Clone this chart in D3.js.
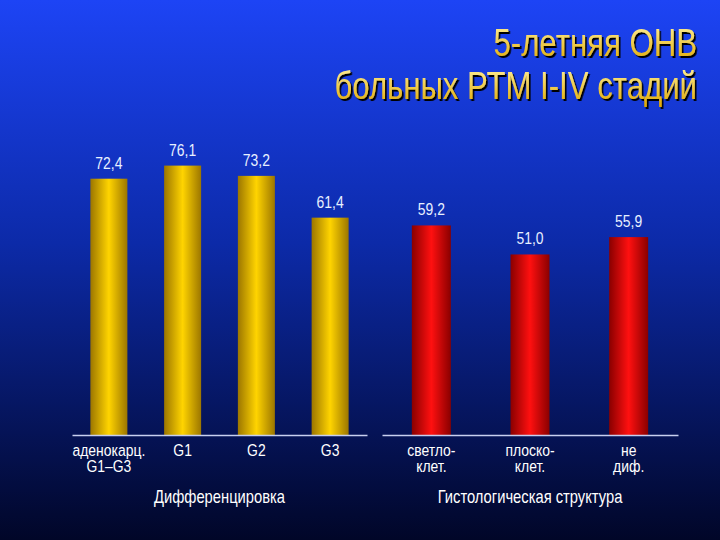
<!DOCTYPE html><html><head><meta charset="utf-8">
<script src="https://cdn.jsdelivr.net/npm/d3@7"></script>
<style>body{margin:0}svg{display:block}</style></head><body><svg id="c" width="720" height="540"></svg>
<script>
const catsDiff = ["аденокарц.|G1–G3","G1","G2","G3"];
const valsDiff = [72.4,76.1,73.2,61.4];
const catsHist = ["светло-|клет.","плоско-|клет.","не|диф."];
const valsHist = [59.2,51.0,55.9];
const titleLines = ["5-летняя ОНВ","больных РТМ I-IV стадий"];
const groupTitles = ["Дифференцировка","Гистологическая структура"];

const svg = d3.select("#c");
const F = "'Liberation Sans','Arial',sans-serif";
const S = 0.82; // horizontal condensation
const defs = svg.append("defs");
const bg = defs.append("linearGradient").attr("id","bg").attr("x1",0).attr("x2",0).attr("y1",0).attr("y2",1);
bg.append("stop").attr("offset","0%").attr("stop-color","#1d44f5");
bg.append("stop").attr("offset","45%").attr("stop-color","#0c2aa8");
bg.append("stop").attr("offset","100%").attr("stop-color","#010628");
function barGrad(id,edge,mid){const g=defs.append("linearGradient").attr("id",id);
 g.append("stop").attr("offset","0%").attr("stop-color",edge);
 g.append("stop").attr("offset","50%").attr("stop-color",mid);
 g.append("stop").attr("offset","100%").attr("stop-color",edge);}
barGrad("gy","#9c7600","#ffd400");
barGrad("gr","#8a0000","#ff1010");
const tg=defs.append("linearGradient").attr("id","tg").attr("x1",0).attr("x2",0).attr("y1",0).attr("y2",1);
tg.append("stop").attr("offset","0%").attr("stop-color","#fff2a0");
tg.append("stop").attr("offset","100%").attr("stop-color","#e0a800");
defs.append("filter").attr("id","sh").append("feDropShadow").attr("dx",2).attr("dy",2).attr("stdDeviation",0.5).attr("flood-color","#000");
svg.append("rect").attr("width",720).attr("height",540).attr("fill","url(#bg)");

// condensed text helper
function ctext(x,y,anchor,size,fill){
 return svg.append("g").attr("transform",`translate(${x},${y}) scale(${S},1)`).append("text")
  .attr("text-anchor",anchor).attr("font-family",F).attr("font-size",size).attr("fill",fill);
}
titleLines.forEach((t,i)=>{
 ctext(697,56+i*43,"end",38,"url(#tg)").attr("filter","url(#sh)").text(t);
});

const y = d3.scaleLinear().domain([0,100]).range([435,81]);
function group(cats,vals,x0,x1,fill,title,bw){
 const x = d3.scaleBand().domain(cats).range([x0,x1]);
 const cx = c=>x(c)+x.bandwidth()/2;
 const g = svg.append("g");
 g.selectAll("rect").data(vals).join("rect").attr("x",(d,i)=>cx(cats[i])-bw/2).attr("width",bw)
  .attr("y",d=>y(d)).attr("height",d=>y(0)-y(d)).attr("fill",fill);
 vals.forEach((d,i)=>ctext(cx(cats[i]),y(d)-10,"middle",17,"#e8f0ff").text(d.toFixed(1).replace(".",",")));
 const a = svg.append("g").attr("transform","translate(0,435)").call(d3.axisBottom(x).tickSize(0).tickFormat(""));
 a.select(".domain").attr("stroke","#c8d0f0").attr("stroke-width",1.5);
 cats.forEach(c=>{c.split("|").forEach((l,j)=>ctext(cx(c),456+j*16,"middle",17,"#fff").text(l));});
 ctext((x0+x1)/2,503,"middle",18,"#fff").text(title);
}
group(catsDiff,valsDiff,72,367,"url(#gy)",groupTitles[0],37);
group(catsHist,valsHist,382,678,"url(#gr)",groupTitles[1],39);
</script></body></html>
